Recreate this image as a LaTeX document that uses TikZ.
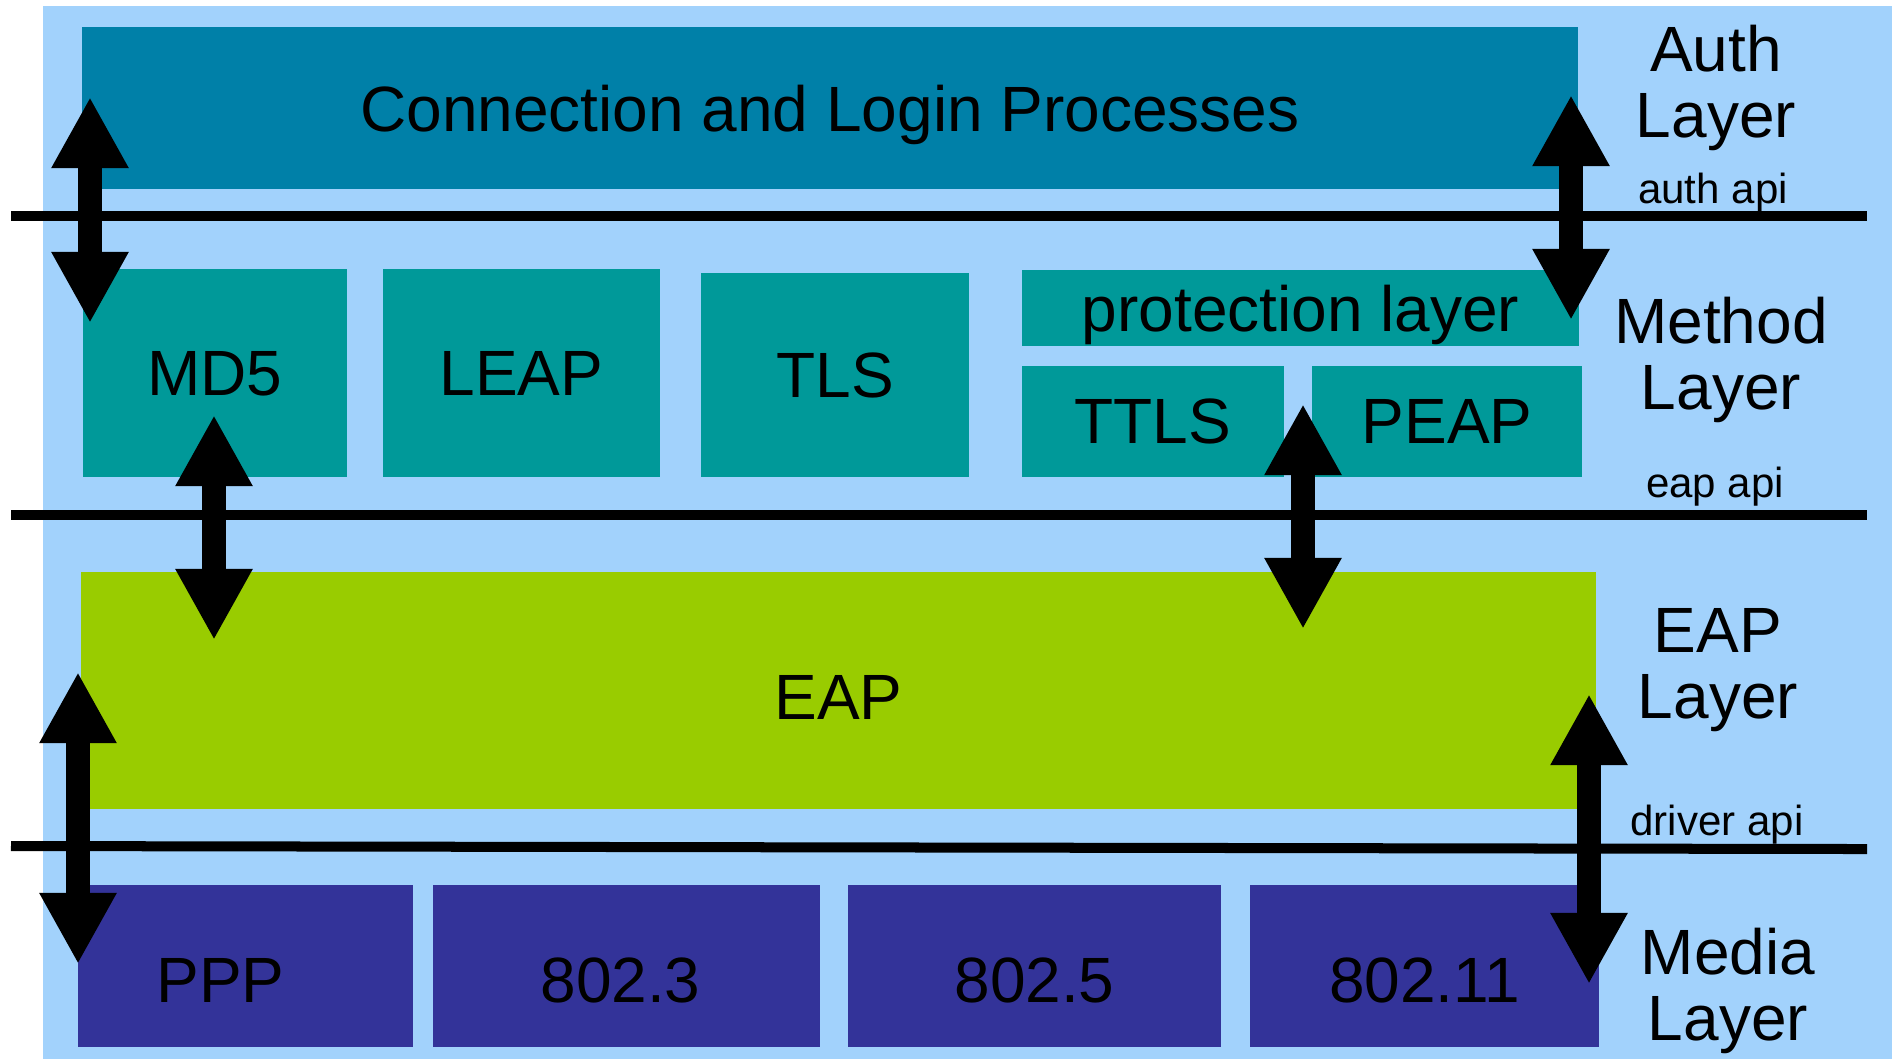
\documentclass[tikz,border=0pt]{standalone}
\usepackage{fontspec}
\setmainfont{Liberation Sans}
\usepackage{xcolor}
\usepackage{tikz}
\usetikzlibrary{arrows.meta}
\definecolor{sky}{HTML}{A2D2FC}
\definecolor{authbox}{HTML}{0080A8}
\definecolor{methodbox}{HTML}{009999}
\definecolor{eapbox}{HTML}{99CC00}
\definecolor{mediabox}{HTML}{333399}
\newcommand{\labfont}{\fontsize{18.2}{18.8}\selectfont}
\newcommand{\apifont}{\fontsize{11.95}{13}\selectfont}

\begin{document}
\begin{tikzpicture}[
  x=0.01cm, y=-0.01cm,
  every node/.style={font=\labfont, text=black},
  box/.style={rectangle, draw=none, inner sep=0pt, text depth=0pt},
  authb/.style={box, fill=authbox},
  methb/.style={box, fill=methodbox},
  eapb/.style={box, fill=eapbox, text height=5.8mm},
  medb/.style={box, fill=mediabox, text height=7.2mm},
  layer/.style={align=center, inner sep=0pt},
  api/.style={font=\apifont, inner sep=0pt, anchor=base},
  sep/.style={line width=1mm, draw=black},
  dbl/.style={{Triangle[width=7.2mm,length=7.1mm]}-{Triangle[width=7.2mm,length=7.1mm]}, line width=2.4mm},
]
\useasboundingbox (0,0) rectangle (1892,1059);
\fill[sky] (43,6) rectangle (1892,1059);

\node[authb, minimum width=14.96cm, minimum height=1.62cm] (conn) at (830,108) {Connection and Login Processes};

\node[methb, minimum width=2.64cm, minimum height=2.08cm] (md5)  at (215,373)   {MD5};
\node[methb, minimum width=2.77cm, minimum height=2.08cm] (leap) at (521.5,373) {LEAP};
\node[methb, minimum width=2.68cm, minimum height=2.04cm] (tls)  at (835,375)   {TLS};
\node[methb, minimum width=5.57cm, minimum height=0.76cm] (prot) at (1300.5,308) {protection layer};
\node[methb, minimum width=2.62cm, minimum height=1.11cm] (ttls) at (1153,421.5) {TTLS};
\node[methb, minimum width=2.70cm, minimum height=1.11cm] (peap) at (1447,421.5) {PEAP};

\node[eapb, minimum width=15.15cm, minimum height=2.37cm] (eap) at (838.5,690.5) {EAP};

\node[medb, minimum width=3.35cm, minimum height=1.62cm] (ppp)    at (245.5,966)  {PPP\hspace*{5mm}};
\node[medb, minimum width=3.87cm, minimum height=1.62cm] (ieee3)  at (626.5,966)  {802.3\hspace*{1.2mm}};
\node[medb, minimum width=3.73cm, minimum height=1.62cm] (ieee5)  at (1034.5,966) {802.5};
\node[medb, minimum width=3.49cm, minimum height=1.62cm] (ieee11) at (1424.5,966) {802.11};

\node[layer] (authlayer)  at (1716,88)  {Auth\\Layer};
\node[layer] (methlayer)  at (1721,360) {Method\\Layer};
\node[layer] (eaplayer)   at (1718,670) {EAP\\Layer};
\node[layer] (medialayer) at (1728,991) {Media\\Layer};

\node[api] (authapi)   at (1713,203) {auth api};
\node[api] (eapapi)    at (1715,497) {eap api};
\node[api] (driverapi) at (1717,835) {driver api};

\draw[sep] (11,216) -- (1867,216);
\draw[sep] (11,515) -- (1867,515);
\draw[sep] (11,846) -- (1867,849);

\coordinate (connL-t) at (90,97);    \coordinate (connL-b) at (90,323);
\coordinate (connR-t) at (1571,95);  \coordinate (connR-b) at (1571,320);
\coordinate (md5-t)   at (214,415);  \coordinate (md5-b)   at (214,640);
\coordinate (peap-t)  at (1303,404); \coordinate (peap-b)  at (1303,629);
\coordinate (eapL-t)  at (78,672);   \coordinate (eapL-b)  at (78,964);
\coordinate (eapR-t)  at (1589,694); \coordinate (eapR-b)  at (1589,984);

\draw[dbl] (connL-t) -- (connL-b);
\draw[dbl] (connR-t) -- (connR-b);
\draw[dbl] (md5-t) -- (md5-b);
\draw[dbl] (peap-t) -- (peap-b);
\draw[dbl] (eapL-t) -- (eapL-b);
\draw[dbl] (eapR-t) -- (eapR-b);
\end{tikzpicture}
\end{document}
